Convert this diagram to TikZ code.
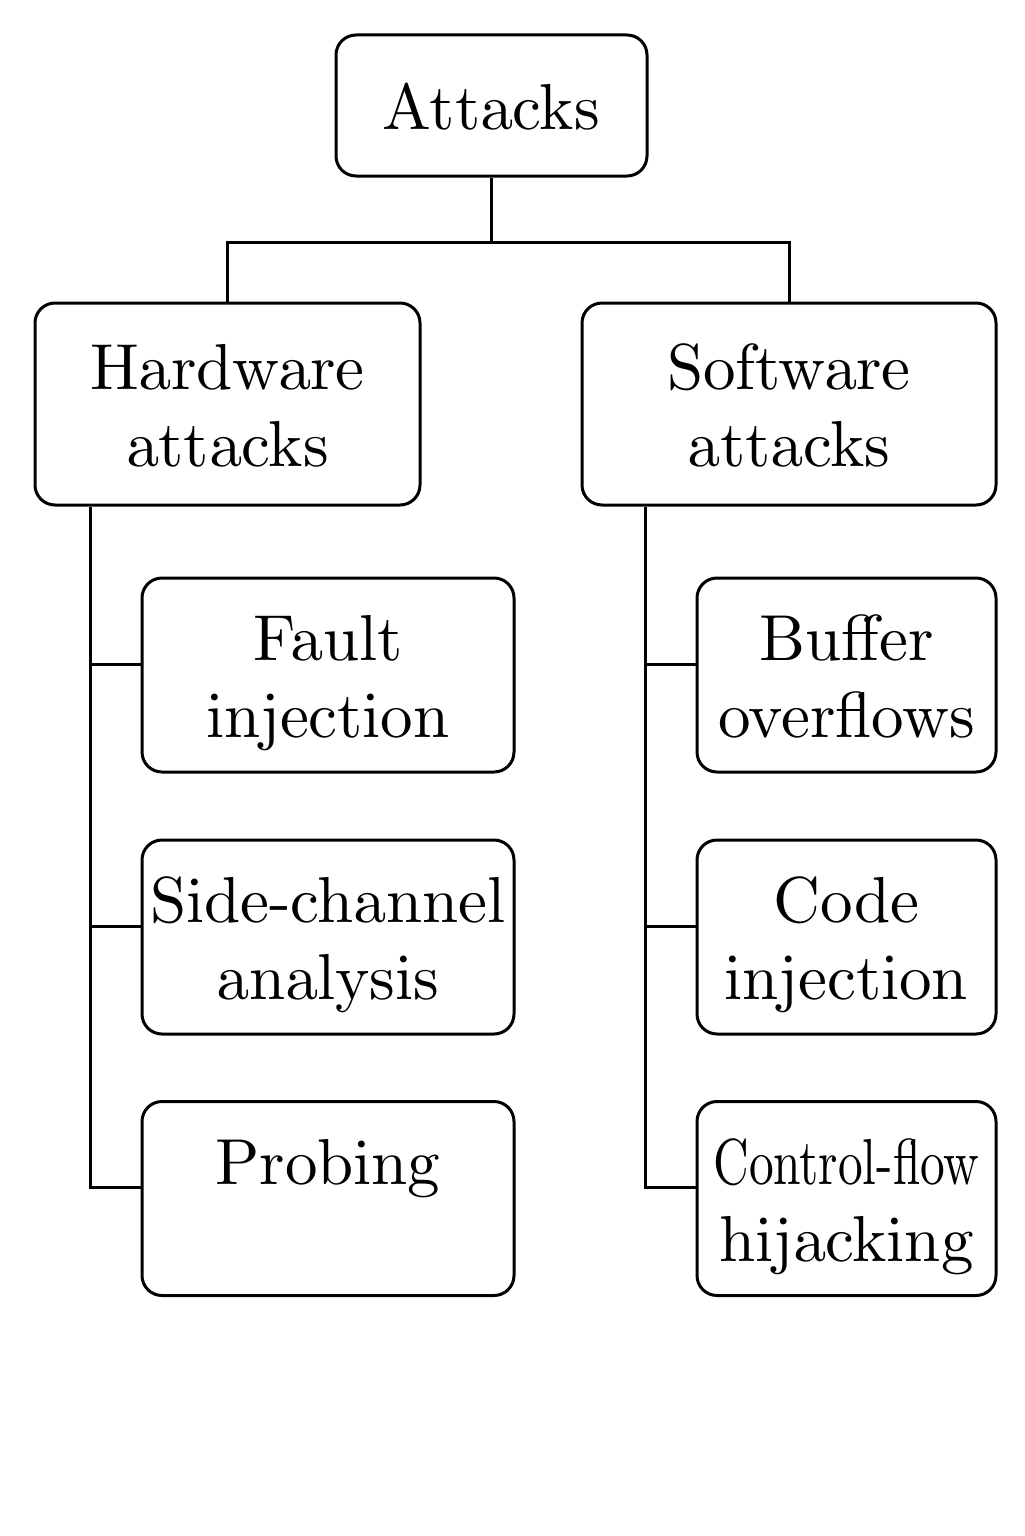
\documentclass[tikz,border=0pt]{standalone}
\usetikzlibrary{calc}
\font\bigrm=cmr10 at 32.5pt
\newcommand{\topstrut}{\rule[-11.55pt]{0pt}{47.5pt}}
\begin{document}
\begin{tikzpicture}[x=0.5pt,y=-0.5pt,
  box/.style={draw,line width=1.5pt,rounded corners=10pt,align=center,inner sep=0pt,
    font=\fontsize{32.5pt}{38.5pt}\selectfont\bigrm},
  conn/.style={line width=1.5pt}]
\useasboundingbox (0,0) rectangle (1024,1536);
\node[box,minimum width=155.5pt,minimum height=70.5pt] (attacks) at (491.5,105.5) {\topstrut Attacks};
\node[box,minimum width=192.5pt,minimum height=101pt] (hw) at (227.5,404) {\topstrut Hardware\\\strut attacks};
\node[box,minimum width=207pt,minimum height=101pt] (sw) at (789,404) {\topstrut Software\\\strut attacks};
\node[box,minimum width=186pt,minimum height=97pt] (fault) at (328,675) {\topstrut Fault\\\strut injection};
\node[box,minimum width=186pt,minimum height=97pt] (side) at (328,937) {\topstrut Side-channel\\\strut analysis};
\node[box,minimum width=186pt,minimum height=97pt] (probing) at (328,1198.5) {\topstrut Probing\\\strut};
\node[box,minimum width=149.5pt,minimum height=97pt] (buffer) at (846.5,675) {\topstrut Buffer\\\strut overflows};
\node[box,minimum width=149.5pt,minimum height=97pt] (code) at (846.5,937) {\topstrut Code\\\strut injection};
\node[box,minimum width=149.5pt,minimum height=97pt] (cfh) at (846.5,1198.5) {\topstrut\scalebox{0.76}[1]{Control-flow}\\\strut hijacking};
\coordinate (split) at (491.5,242);
\coordinate (trunkL) at (90,0);
\coordinate (trunkR) at (645,0);
\draw[conn] (attacks.south) -- (split);
\draw[conn] (hw.north) |- (split) -| (sw.north);
\draw[conn] (hw.south -| trunkL) |- ([yshift=5.5pt]probing.west);
\draw[conn] ([yshift=5.5pt]fault.west) -- ([yshift=5.5pt]fault.west -| trunkL);
\draw[conn] ([yshift=5.5pt]side.west) -- ([yshift=5.5pt]side.west -| trunkL);
\draw[conn] (sw.south -| trunkR) |- ([yshift=5.5pt]cfh.west);
\draw[conn] ([yshift=5.5pt]buffer.west) -- ([yshift=5.5pt]buffer.west -| trunkR);
\draw[conn] ([yshift=5.5pt]code.west) -- ([yshift=5.5pt]code.west -| trunkR);
\end{tikzpicture}
\end{document}
